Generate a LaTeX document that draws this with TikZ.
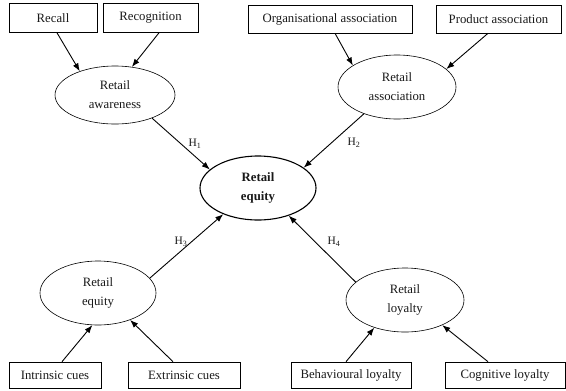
\documentclass[tikz,border=0pt]{standalone}
\usepackage{fontspec}
\setmainfont{Liberation Serif}
\usetikzlibrary{shapes.geometric,arrows.meta}
\begin{document}
\begin{tikzpicture}[x=1bp,y=-1bp,
  every node/.style={font=\fontsize{12.8}{19}\selectfont, text=black!90},
  itembox/.style={draw, line width=0.6bp, inner sep=0pt},
  construct/.style={draw, ellipse, line width=0.6bp, inner sep=0pt, align=center},
  central/.style={construct, line width=1.1bp, font=\bfseries\fontsize{12.8}{19}\selectfont},
  link/.style={line width=0.9bp, -{Latex[length=8bp,width=6bp]}},
  hlabel/.style={font=\fontsize{11.5}{13}\selectfont}]
\useasboundingbox (0,0) rectangle (566,390);
% boxes
\node[itembox, minimum width=88bp, minimum height=29bp] (recall) at (53,18) {Recall};
\node[itembox, minimum width=95bp, minimum height=29bp] (recog) at (150.5,18) {Recognition};
\node[itembox, minimum width=164bp, minimum height=28bp] (org) at (330,19) {Organisational association};
\node[itembox, minimum width=125bp, minimum height=28bp] (prod) at (498.5,19) {Product association};
\node[itembox, minimum width=92bp, minimum height=26bp] (intr) at (55,375) {Intrinsic cues};
\node[itembox, minimum width=112bp, minimum height=26bp] (extr) at (184,375) {Extrinsic cues};
\node[itembox, minimum width=120bp, minimum height=26bp] (behav) at (351,375) {Behavioural loyalty};
\node[itembox, minimum width=120bp, minimum height=26bp] (cogn) at (505,375) {Cognitive loyalty};
% ellipses
\node[construct, minimum width=120bp, minimum height=58bp] (aware) at (115,95) {Retail\\awareness};
\node[construct, minimum width=118bp, minimum height=64bp] (assoc) at (397,87) {Retail\\association};
\node[central, minimum width=116bp, minimum height=64bp] (eq) at (258,188) {Retail\\equity};
\node[construct, minimum width=116bp, minimum height=64bp] (peq) at (98,293) {Retail\\equity};
\node[construct, minimum width=118bp, minimum height=64bp] (loy) at (405,300) {Retail\\loyalty};
% arrows
\draw[link] ([xshift=4bp]recall.south) -- (aware.146);
\draw[link] ([xshift=8.5bp]recog.south) -- (aware.59);
\draw[link] ([xshift=5bp]org.south) -- (assoc.154);
\draw[link] ([xshift=-10.5bp]prod.south) -- (assoc.20);
\draw[link] ([xshift=7bp]intr.north) -- (peq.260);
\draw[link] ([xshift=-11bp]extr.north) -- (peq.320);
\draw[link] ([xshift=-5bp]behav.north) -- (loy.222);
\draw[link] ([xshift=-17bp]cogn.north) -- (loy.326);
\draw[link] (aware.328) -- (eq.159);
\draw[link] (assoc.219) -- (eq.24);
\draw[link] (peq.16) -- (eq.217);
\draw[link] (loy.160) -- (eq.318);
% hypothesis labels
\node[hlabel] (h1) at (195,144) {H\textsubscript{1}};
\node[hlabel] (h2) at (354,143) {H\textsubscript{2}};
\node[hlabel] (h3) at (181,242) {H\textsubscript{3}};
\node[hlabel] (h4) at (334,242) {H\textsubscript{4}};
\end{tikzpicture}
\end{document}
